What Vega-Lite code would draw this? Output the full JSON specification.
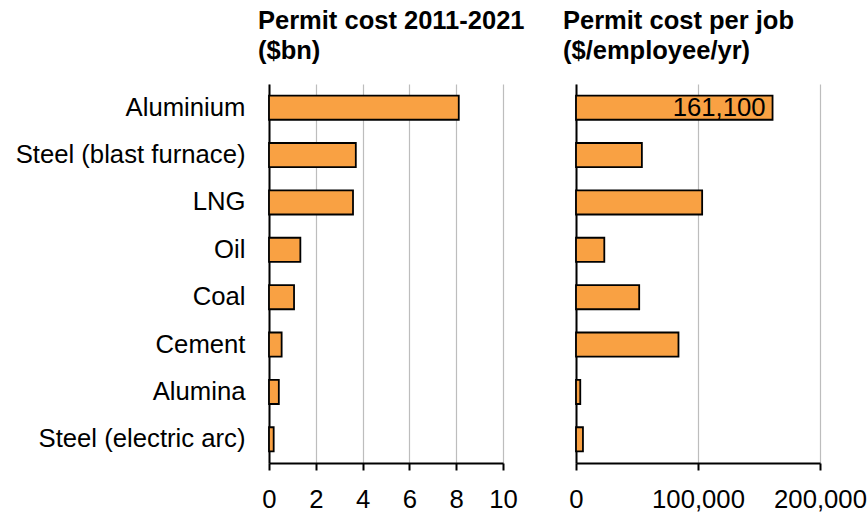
{
  "$schema": "https://vega.github.io/schema/vega-lite/v6.json",
  "background": "white",
  "padding": {"left": 15, "top": 8, "right": 5, "bottom": 5},
  "bounds": "flush",
  "spacing": 73,
  "data": {"values": [
    {"sector": "Aluminium", "cost": 8.11, "perjob": 161100, "label": "161,100"},
    {"sector": "Steel (blast furnace)", "cost": 3.71, "perjob": 54000, "label": ""},
    {"sector": "LNG", "cost": 3.59, "perjob": 103400, "label": ""},
    {"sector": "Oil", "cost": 1.34, "perjob": 23200, "label": ""},
    {"sector": "Coal", "cost": 1.07, "perjob": 51800, "label": ""},
    {"sector": "Cement", "cost": 0.54, "perjob": 84000, "label": ""},
    {"sector": "Alumina", "cost": 0.42, "perjob": 3500, "label": ""},
    {"sector": "Steel (electric arc)", "cost": 0.2, "perjob": 5700, "label": ""}
  ]},
  "config": {
    "font": "Liberation Sans",
    "view": {"stroke": null},
    "axis": {
      "labelFont": "Liberation Sans",
      "labelFontSize": 25.7,
      "labelColor": "black",
      "labelOverlap": false,
      "labelFlush": false,
      "domainColor": "black",
      "domainWidth": 2,
      "tickColor": "black",
      "tickWidth": 2,
      "gridColor": "#bdbdbd",
      "gridWidth": 1.2
    },
    "title": {
      "font": "Liberation Sans",
      "fontSize": 25.5,
      "fontWeight": "bold",
      "color": "black",
      "anchor": "start",
      "frame": "group",
      "lineHeight": 30
    }
  },
  "hconcat": [
    {
      "width": 234,
      "height": 379,
      "title": {"text": ["Permit cost 2011-2021", "($bn)"], "dx": -11, "offset": 20},
      "mark": {"type": "bar", "fill": "#F9A143", "stroke": "black", "strokeWidth": 1.8},
      "encoding": {
        "y": {
          "field": "sector", "type": "nominal", "sort": null,
          "scale": {"paddingInner": 0.49, "paddingOuter": 0.245},
          "axis": {"title": null, "ticks": false, "labelPadding": 24, "labelLimit": 400}
        },
        "x": {
          "field": "cost", "type": "quantitative",
          "scale": {"domain": [0, 10], "nice": false},
          "axis": {"title": null, "values": [0, 2, 4, 6, 8, 10], "tickSize": 7, "labelPadding": 17, "grid": true}
        }
      }
    },
    {
      "width": 244,
      "height": 379,
      "title": {"text": ["Permit cost per job", "($/employee/yr)"], "dx": -13, "offset": 20},
      "encoding": {
        "y": {
          "field": "sector", "type": "nominal", "sort": null,
          "scale": {"paddingInner": 0.49, "paddingOuter": 0.245},
          "axis": {"title": null, "ticks": false, "labels": false}
        },
        "x": {
          "field": "perjob", "type": "quantitative",
          "scale": {"domain": [0, 200000], "nice": false},
          "axis": {"title": null, "values": [0, 100000, 200000], "format": ",.0f", "tickSize": 7, "labelPadding": 17, "grid": true}
        }
      },
      "layer": [
        {"mark": {"type": "bar", "fill": "#F9A143", "stroke": "black", "strokeWidth": 1.8}},
        {
          "mark": {"type": "text", "align": "right", "dx": -7, "fontSize": 25.7, "color": "black", "font": "Liberation Sans"},
          "encoding": {"text": {"field": "label"}}
        }
      ]
    }
  ]
}
